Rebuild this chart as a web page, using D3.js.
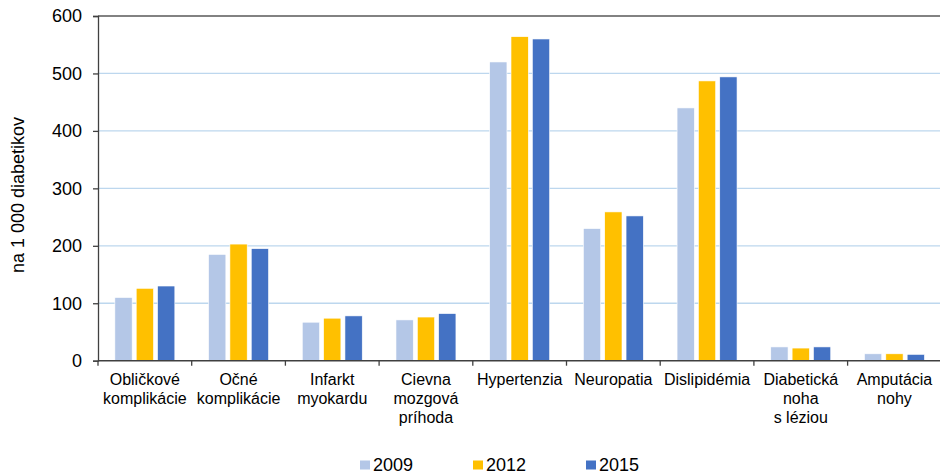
<!DOCTYPE html>
<html>
<head>
<meta charset="utf-8">
<script src="https://cdn.jsdelivr.net/npm/d3@7"></script>
<style>
  body { margin: 0; background: #fff; }
  svg { display: block; font-family: "Liberation Sans", Arial, sans-serif; }
</style>
</head>
<body>
<svg width="940" height="474"></svg>
<script>
var categories = [
  ["Obličkové", "komplikácie"],
  ["Očné", "komplikácie"],
  ["Infarkt", "myokardu"],
  ["Cievna", "mozgová", "príhoda"],
  ["Hypertenzia"],
  ["Neuropatia"],
  ["Dislipidémia"],
  ["Diabetická", "noha", "s léziou"],
  ["Amputácia", "nohy"]
];
var years = ["2009", "2012", "2015"];
var values2009 = [110, 185, 67, 71, 520, 230, 440, 24, 12];
var values2012 = [126, 203, 74, 76, 564, 259, 487, 22, 12];
var values2015 = [130, 195, 78, 82, 560, 252, 494, 24, 11];
var yTicks = [0, 100, 200, 300, 400, 500, 600];
var colors = ["#B4C7E7", "#FFC000", "#4472C4"];

var series = [values2009, values2012, values2015];
var catKeys = categories.map(function(c) { return c.join(" "); });

var svg = d3.select("svg");
var plotLeft = 98, plotRight = 941.3, plotTop = 16, plotBottom = 360.7;

var x0 = d3.scaleBand().domain(catKeys).range([plotLeft, plotRight]);
var groupPad = x0.bandwidth() * 0.18;
var x1 = d3.scaleBand().domain(years)
    .range([groupPad, x0.bandwidth() - groupPad])
    .paddingInner(0.19);
var y = d3.scaleLinear().domain([0, 600]).range([plotBottom, plotTop]);

// gridlines
svg.append("g")
  .selectAll("line")
  .data(yTicks.filter(function(t) { return t > 0 && t < 600; }))
  .enter().append("line")
  .attr("x1", plotLeft).attr("x2", plotRight)
  .attr("y1", function(d) { return y(d); })
  .attr("y2", function(d) { return y(d); })
  .attr("stroke", "#BDD7EE")
  .attr("stroke-width", 1.3);

// top border line
svg.append("line")
  .attr("x1", plotLeft).attr("x2", plotRight)
  .attr("y1", y(600)).attr("y2", y(600))
  .attr("stroke", "#595959").attr("stroke-width", 1.3);

// bars
var rows = [];
catKeys.forEach(function(c, i) {
  years.forEach(function(yr, j) {
    rows.push({ cat: c, year: yr, value: series[j][i], color: colors[j] });
  });
});

svg.append("g")
  .selectAll("rect")
  .data(rows)
  .enter().append("rect")
  .attr("x", function(d) { return x0(d.cat) + x1(d.year); })
  .attr("y", function(d) { return y(d.value); })
  .attr("width", x1.bandwidth())
  .attr("height", function(d) { return plotBottom - y(d.value); })
  .attr("fill", function(d) { return d.color; })
  .attr("stroke", "#fff")
  .attr("stroke-width", 0.6);

// y axis
var yAxis = svg.append("g")
  .attr("transform", "translate(" + plotLeft + ",0)")
  .call(d3.axisLeft(y).tickValues(yTicks).tickSize(5).tickPadding(11));
yAxis.select(".domain").attr("stroke", "#404040").attr("stroke-width", 1.3);
yAxis.selectAll(".tick line").attr("stroke", "#404040").attr("stroke-width", 1.3);
yAxis.selectAll("text")
  .attr("font-size", "18px")
  .attr("font-family", "Liberation Sans, Arial, sans-serif")
  .attr("fill", "#000");

// x axis line and separators
svg.append("line")
  .attr("x1", plotLeft).attr("x2", plotRight)
  .attr("y1", plotBottom).attr("y2", plotBottom)
  .attr("stroke", "#404040").attr("stroke-width", 1.5);

svg.append("g")
  .selectAll("line")
  .data(catKeys)
  .enter().append("line")
  .attr("x1", function(d) { return x0(d); })
  .attr("x2", function(d) { return x0(d); })
  .attr("y1", plotBottom).attr("y2", plotBottom + 5)
  .attr("stroke", "#404040").attr("stroke-width", 1.3);

// category labels
var labels = svg.append("g")
  .selectAll("text")
  .data(categories)
  .enter().append("text")
  .attr("text-anchor", "middle")
  .attr("font-size", "16px")
  .attr("fill", "#000")
  .attr("transform", function(d, i) {
    return "translate(" + (x0(catKeys[i]) + x0.bandwidth() / 2) + ",385)";
  });
labels.selectAll("tspan")
  .data(function(d) { return d; })
  .enter().append("tspan")
  .attr("x", 0)
  .attr("y", function(d, i) { return i * 19; })
  .text(function(d) { return d; });

// y axis title
svg.append("text")
  .attr("transform", "translate(24,195) rotate(-90)")
  .attr("text-anchor", "middle")
  .attr("font-size", "18px")
  .attr("fill", "#000")
  .text("na 1 000 diabetikov");

// legend
var legendX = [360, 473, 586];
var legend = svg.append("g")
  .selectAll("g")
  .data(years)
  .enter().append("g")
  .attr("transform", function(d, i) { return "translate(" + legendX[i] + ",0)"; });
legend.append("rect")
  .attr("x", 0).attr("y", 460.5)
  .attr("width", 10).attr("height", 9)
  .attr("fill", function(d, i) { return colors[i]; });
legend.append("text")
  .attr("x", 13).attr("y", 471)
  .attr("font-size", "18px")
  .attr("fill", "#000")
  .text(function(d) { return d; });
</script>
</body>
</html>
